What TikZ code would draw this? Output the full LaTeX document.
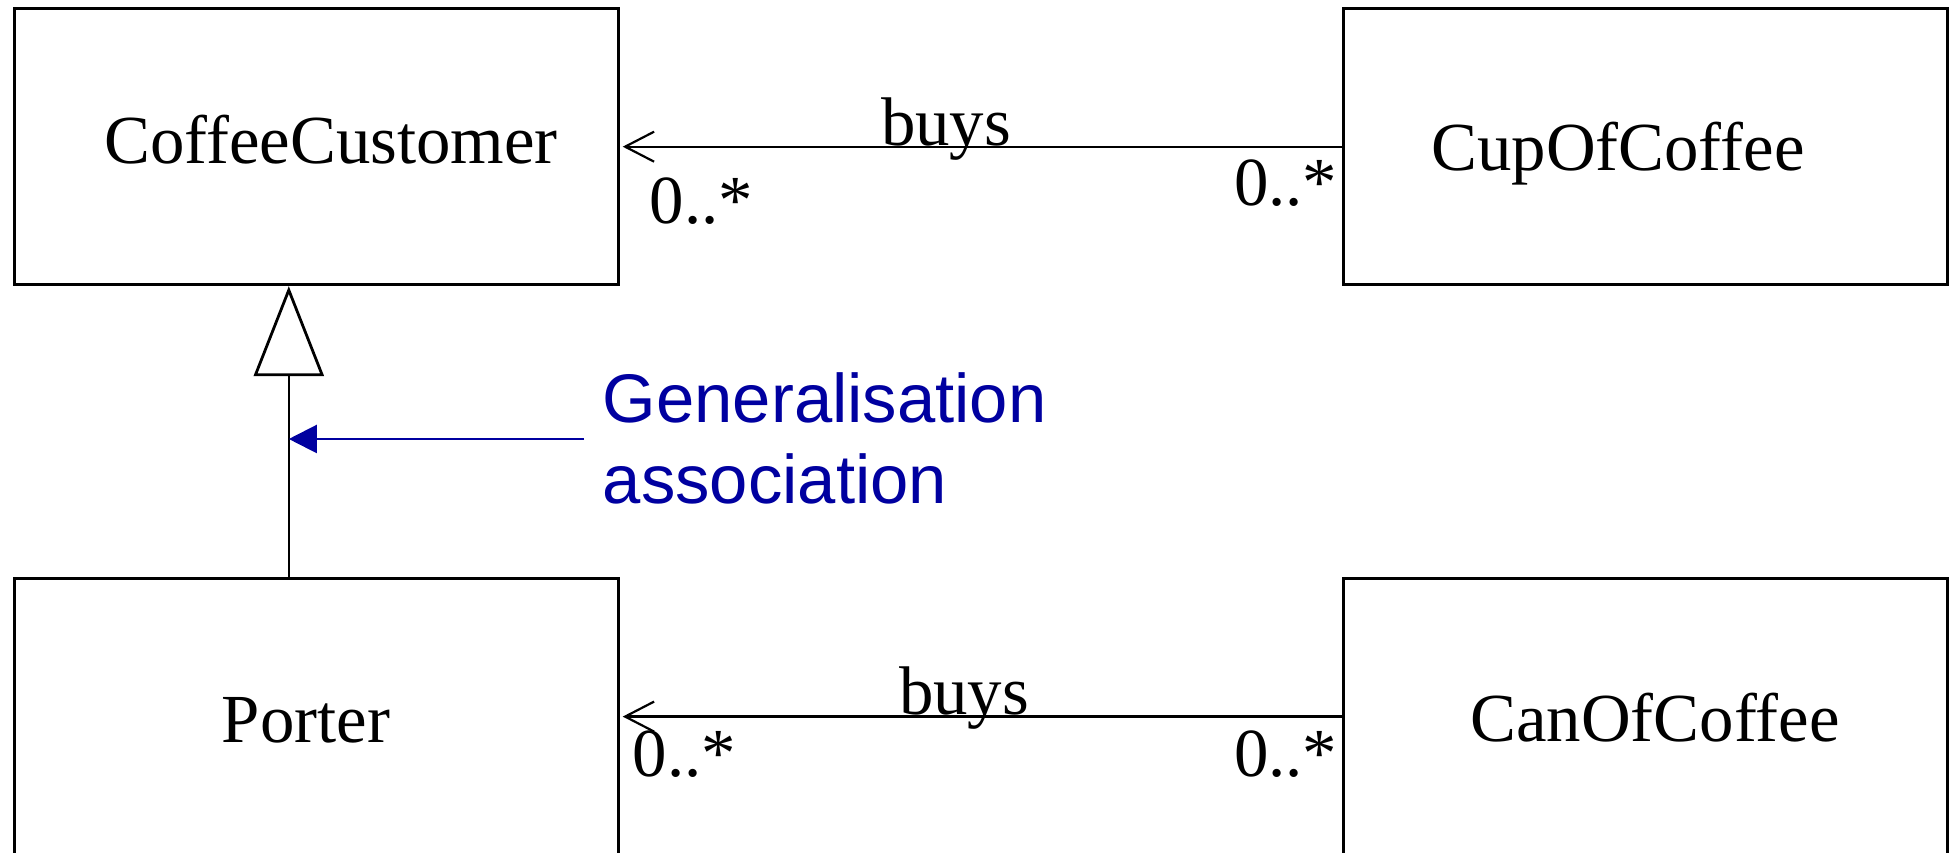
\documentclass[tikz,border=0pt]{standalone}
\usepackage{fontspec}
\setmainfont{Liberation Serif}
\newfontfamily\labelsans{Liberation Sans}
\usetikzlibrary{arrows.meta,calc}
\definecolor{genblue}{RGB}{0,0,160}
\tikzset{
  classbox/.style={draw=black,line width=0.75pt,minimum width=151pt,minimum height=69pt,inner sep=0pt},
  classname/.style={anchor=base,inner sep=0pt,font=\fontsize{17.2}{20.6}\selectfont},
  mult/.style={inner sep=0pt,font=\fontsize{17.2}{20.6}\selectfont},
  assoc/.style={draw=black,line width=0.55pt,shorten >=0.8pt,-{Straight Barb[length=7.25pt,width=7.5pt,line width=0.55pt]}},
  genline/.style={draw=black,line width=0.6pt,-{Triangle[open,length=22.5pt,width=17.5pt,line width=0.7pt]}},
  note/.style={anchor=base west,inner sep=0pt,text=genblue,font=\labelsans\fontsize{17.2}{20.6}\selectfont},
  notearrow/.style={draw=genblue,line width=0.55pt,-{Triangle[length=7pt,width=7pt]}}
}
\begin{document}
\begin{tikzpicture}[x=0.25pt,y=-0.25pt]
\useasboundingbox[fill=white] (0,0) rectangle (1950,853);
\begin{scope}
\clip (0,0) rectangle (1950,853);
% class boxes
\node[classbox] (cc) at (316,146.7) {};
\node[classbox] (cup) at (1645.7,146.7) {};
\node[classbox,minimum height=69.25pt] (porter) at (316,716.6) {};
\node[classbox,minimum height=69.25pt] (can) at (1645.7,716.6) {};
\end{scope}
% class names
\node[classname] (ccname) at (331,164) {CoffeeCustomer};
\node[classname] (cupname) at (1618,171) {CupOfCoffee};
\node[classname] (portername) at (306,743) {Porter};
\node[classname] (canname) at (1655,742) {CanOfCoffee};
% associations
\draw[assoc] (cup.west) -- (cc.east);
\draw[assoc] (can.west) -- (porter.east);
\node[classname] (buys1) at (946,146) {buys};
\node[classname] (buys2) at (964,715) {buys};
\node[mult,anchor=base west] (m1) at (649,224) {0..*};
\node[mult,anchor=base east] (m2) at (1338,206) {0..*};
\node[mult,anchor=base west] (m3) at (632,777) {0..*};
\node[mult,anchor=base east] (m4) at (1338,777) {0..*};
% generalisation
\coordinate (gbot) at ($(porter.north west)+(276.3,0)$);
\coordinate (gtop) at ($(cc.south west)+(276.3,0)$);
\draw[genline] (gbot) -- (gtop);
% note
\node[note] (gen1) at (602,423) {Generalisation};
\node[note] (gen2) at (602,504) {association};
\coordinate (gstart) at ($(gen1.base west)+(-18,16)$);
\draw[notearrow] (gstart) -- (gstart -| gbot);
\end{tikzpicture}
\end{document}
